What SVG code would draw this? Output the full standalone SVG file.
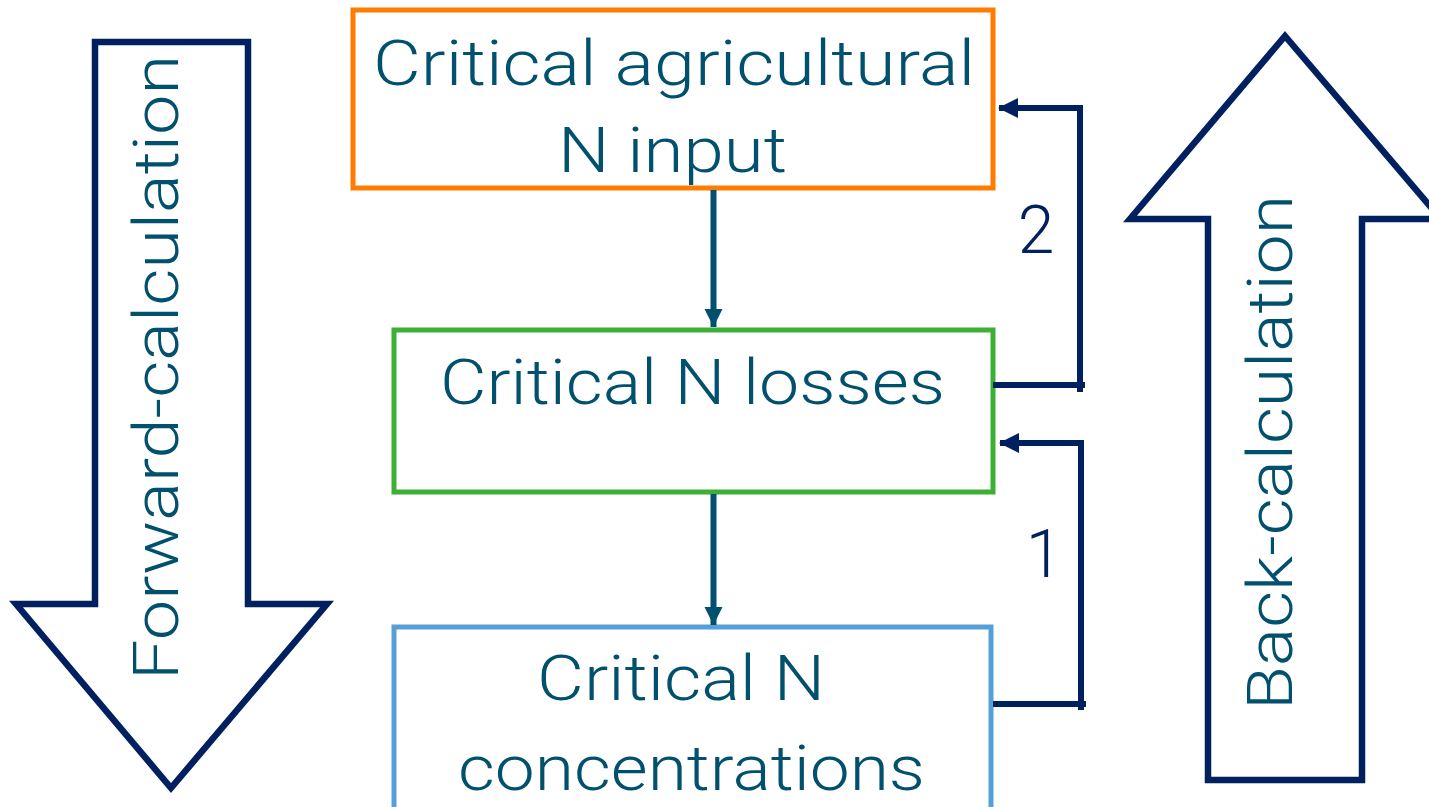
<svg xmlns="http://www.w3.org/2000/svg" width="1429" height="807" viewBox="0 0 1429 807">
  <style>
    .lbl { font-family: Roboto, "DejaVu Sans", "Liberation Sans", sans-serif; font-weight: 300; font-size: 63px; fill: #00506E; }
    .num { font-family: Roboto, "DejaVu Sans", "Liberation Sans", sans-serif; font-weight: 300; font-size: 66px; fill: #002060; }
    .big { fill: #FFFFFF; stroke: #002060; stroke-width: 6.5; stroke-linejoin: miter; }
    .box { fill: #FFFFFF; stroke-width: 5; }
    .flow { stroke: #00506E; stroke-width: 6; fill: none; }
    .fb { stroke: #002060; stroke-width: 6; fill: none; stroke-linecap: square; }
  </style>
  <defs>
    <marker id="headTeal" markerUnits="userSpaceOnUse" markerWidth="20" markerHeight="20" viewBox="0 0 20 18" refX="18" refY="9" orient="auto">
      <path d="M0,0 L18,9 L0,18 Z" fill="#00506E"/>
    </marker>
  </defs>

  <rect width="1429" height="807" fill="#FFFFFF"/>

  <g id="forward-arrow">
    <polygon class="big" points="95,42 248,42 248,604 327,604 171,788 16,604 95,604"/>
    <text class="lbl" transform="translate(178,367.5) rotate(-90)" text-anchor="middle" textLength="625" lengthAdjust="spacingAndGlyphs">Forward-calculation</text>
  </g>

  <g id="back-arrow">
    <polygon class="big" points="1285,36 1441,219 1362,219 1362,780 1208,780 1208,219 1130,219"/>
    <text class="lbl" transform="translate(1292,452.5) rotate(-90)" text-anchor="middle" textLength="515" lengthAdjust="spacingAndGlyphs">Back-calculation</text>
  </g>

  <g id="node-input">
    <rect class="box" x="353" y="10" width="640" height="178" stroke="#FF7C00"/>
    <text class="lbl" x="674" y="85" text-anchor="middle" textLength="602" lengthAdjust="spacingAndGlyphs">Critical agricultural</text>
    <text class="lbl" x="672.5" y="172" text-anchor="middle" textLength="229" lengthAdjust="spacingAndGlyphs">N input</text>
  </g>

  <g id="node-losses">
    <rect class="box" x="394" y="330" width="599" height="162" stroke="#3BB034"/>
    <text class="lbl" x="692.5" y="404" text-anchor="middle" textLength="505" lengthAdjust="spacingAndGlyphs">Critical N losses</text>
  </g>

  <g id="node-concentrations">
    <rect class="box" x="394" y="627" width="597" height="190" stroke="#55A0D8"/>
    <text class="lbl" x="681" y="700" text-anchor="middle" textLength="288" lengthAdjust="spacingAndGlyphs">Critical N</text>
    <text class="lbl" x="691.5" y="790" text-anchor="middle" textLength="467" lengthAdjust="spacingAndGlyphs">concentrations</text>
  </g>

  <g id="connectors">
    <line class="flow" x1="713.5" y1="190" x2="713.5" y2="327" marker-end="url(#headTeal)"/>
    <line class="flow" x1="713.5" y1="494" x2="713.5" y2="625" marker-end="url(#headTeal)"/>
    <path class="fb" d="M996,385 H1082 M1080,389 V108 H1002" />
    <polygon points="998,108 1018,98 1018,118" fill="#002060"/>
    <path class="fb" d="M996,704 H1083 M1081,707 V443 H1003" />
    <polygon points="999,443 1019,433 1019,453" fill="#002060"/>
  </g>

  <g id="labels">
    <text class="num" x="1036" y="253" text-anchor="middle">2</text>
    <text class="num" x="1044" y="577" text-anchor="middle">1</text>
  </g>
</svg>
